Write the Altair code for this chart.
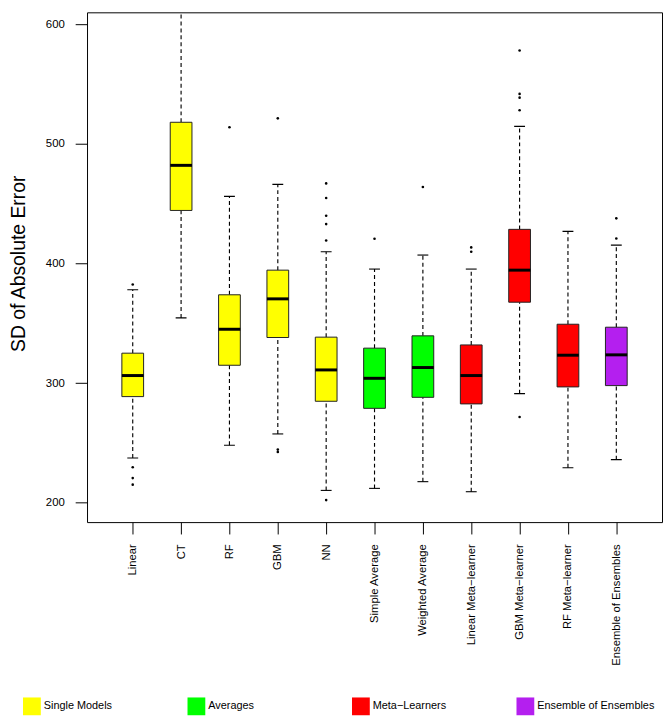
import altair as alt
import pandas as pd

# ---- data ----
categories = ["Linear", "CT", "RF", "GBM", "NN", "Simple Average", "Weighted Average",
              "Linear Meta\u2212learner", "GBM Meta\u2212learner", "RF Meta\u2212learner",
              "Ensemble of Ensembles"]
groups = ["Single Models"] * 5 + ["Averages"] * 2 + ["Meta\u2212Learners"] * 3 + ["Ensemble of Ensembles"]
group_names = ["Single Models", "Averages", "Meta\u2212Learners", "Ensemble of Ensembles"]
group_colors = ["#FFFF00", "#00FF00", "#FF0000", "#B41FEF"]

q1 = [288.7, 444.3, 314.9, 338.1, 284.8, 278.9, 288.1, 282.6, 367.6, 296.8, 297.9]
median = [306.3, 482.0, 345.0, 370.4, 311.0, 304.0, 313.0, 306.3, 394.4, 323.3, 323.6]
q3 = [325.0, 518.0, 373.8, 394.4, 338.4, 329.2, 339.5, 331.9, 428.5, 349.2, 346.7]
lower = [237.4, 354.5, 248.0, 257.5, 210.3, 212.0, 217.6, 209.2, 291.2, 229.3, 236.0]
upper = [378.0, 625.0, 456.1, 466.1, 409.8, 395.3, 407.0, 395.3, 514.6, 426.8, 415.3]

out_model = (["Linear"] * 4 + ["RF"] + ["GBM"] * 3 + ["NN"] * 6 + ["Simple Average"]
             + ["Weighted Average"] + ["Linear Meta\u2212learner"] * 2
             + ["GBM Meta\u2212learner"] * 5 + ["Ensemble of Ensembles"] * 2)
out_value = [382.4, 229.6, 220.6, 215.1,
             513.8,
             521.3, 244.4, 242.4,
             466.9, 454.7, 439.9, 432.9, 419.2, 202.2,
             420.6,
             463.9,
             413.4, 409.8,
             578.0, 541.7, 538.6, 528.0, 271.7,
             437.7, 420.9]

y_ticks = [200, 300, 400, 500, 600]

box_df = pd.DataFrame({"model": categories, "group": groups, "q1": q1, "median": median,
                       "q3": q3, "lower": lower, "upper": upper})
out_df = pd.DataFrame({"model": out_model, "value": out_value})
leg_df = pd.DataFrame({"group": group_names})

FONT = "Liberation Sans"

xscale = alt.Scale(type="point", domain=categories, padding=0.945)
xaxis = alt.Axis(title=None, labelAngle=270, labelAlign="right", labelBaseline="middle",
                 tickSize=12, labelPadding=10, labelFontSize=11.4, labelOverlap=False,
                 labelFlush=False, labelBound=False)
yscale = alt.Scale(domain=[183.8, 609.9], nice=False, zero=False)
yaxis = alt.Axis(values=y_ticks, tickSize=12, labelPadding=11, labelFontSize=11.5,
                 title="SD of Absolute Error", titleFontSize=19.6, titleAngle=270,
                 titleX=-63, titleY=254, titleAlign="center", titleBaseline="alphabetic",
                 titleFontWeight="normal", labelOverlap=False)
cscale = alt.Scale(domain=group_names, range=group_colors)

X = alt.X("model:N", sort=categories, scale=xscale, axis=xaxis)


def Y(field):
    return alt.Y(field, scale=yscale, axis=yaxis)


base = alt.Chart(box_df)

whisk_hi = base.mark_rule(strokeDash=[4, 3], color="black", strokeWidth=1.15, clip=True).encode(
    x=X, y=Y("q3:Q"), y2="upper:Q")
whisk_lo = base.mark_rule(strokeDash=[4, 3], color="black", strokeWidth=1.15, clip=True).encode(
    x=X, y=Y("lower:Q"), y2="q1:Q")
staple_hi = base.mark_tick(size=11, thickness=1.1, color="black", clip=True, opacity=1).encode(
    x=X, y=Y("upper:Q"))
staple_lo = base.mark_tick(size=11, thickness=1.1, color="black", clip=True, opacity=1).encode(
    x=X, y=Y("lower:Q"))
boxes = base.mark_bar(size=22, stroke="#222222", strokeWidth=1, opacity=1).encode(
    x=X, y=Y("q1:Q"), y2="q3:Q",
    color=alt.Color("group:N", scale=cscale, legend=None))
medians = base.mark_tick(size=22, thickness=3, color="black", opacity=1).encode(
    x=X, y=Y("median:Q"))
outliers = alt.Chart(out_df).mark_circle(size=7, color="black", opacity=1).encode(
    x=X, y=Y("value:Q"))

main = alt.layer(whisk_hi, whisk_lo, staple_hi, staple_lo, boxes, medians, outliers)

LX = alt.X("group:N", scale=alt.Scale(type="point", domain=group_names,
                                       range=[-55.8, 443.7], padding=0), axis=None)
leg_sq = alt.Chart(leg_df).mark_square(size=324, opacity=1, strokeWidth=0).encode(
    x=LX, y=alt.value(702.5), color=alt.Color("group:N", scale=cscale, legend=None))
leg_tx = alt.Chart(leg_df).mark_text(align="left", baseline="middle", dx=12, fontSize=11,
                                     font=FONT, color="black").encode(
    x=LX, y=alt.value(702.5), text="group:N")
legend = alt.layer(leg_sq, leg_tx)

chart = alt.layer(main, legend).resolve_scale(x="independent").properties(
    width=582, height=516,
    autosize=alt.AutoSizeParams(type="none"),
    padding={"left": 80, "top": 0, "right": 1, "bottom": 202},
    background="white",
).configure_view(stroke="black", strokeWidth=1).configure_axis(
    domain=False, grid=False, labelFont=FONT, titleFont=FONT, labelColor="black",
    titleColor="black", tickColor="black", tickWidth=1)

chart.save("out.html", embed_options={"renderer": "svg", "actions": False})
